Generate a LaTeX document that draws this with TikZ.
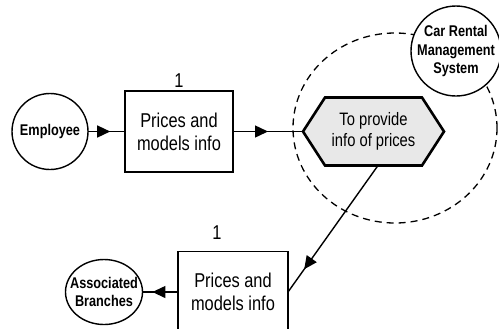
\documentclass[tikz,border=0pt]{standalone}
\usepackage{fontspec}
\setmainfont[FakeStretch=0.82]{Liberation Sans}
\usetikzlibrary{arrows.meta,decorations.markings,shapes.geometric,calc,backgrounds}

\tikzset{
  flowline/.style={line width=1.4bp},
  midarrow/.style={postaction={decorate},
    decoration={markings,mark=at position #1 with {\arrow{Triangle[length=13bp,width=12bp]}}}},
  actor/.style={draw,line width=1.4bp,fill=white,inner sep=0pt,outer sep=0pt},
  actortext/.style={align=center,inner sep=0pt,
    font=\fontsize{15.5bp}{18.5bp}\selectfont\bfseries},
  store/.style={draw,line width=1.5bp,rectangle,fill=white,minimum width=#1,
    minimum height=81bp,inner sep=0pt,outer sep=0pt,align=center,
    font=\fontsize{20bp}{23bp}\selectfont},
  tag/.style={inner sep=0pt,font=\fontsize{20bp}{23bp}\selectfont},
  proclabel/.style={minimum width=141bp,minimum height=68bp,inner sep=0pt,
    outer sep=0pt,align=center,font=\fontsize{18bp}{20.5bp}\selectfont},
  procshape/.style={draw,line width=2.6bp,fill=black!9,line join=miter},
  boundary/.style={draw,line width=1.3bp,dash pattern=on 7bp off 5bp},
}

\begin{document}
\begin{tikzpicture}[x=1bp,y=-1bp]
\useasboundingbox (0,0) rectangle (499,328);

% external entities
\node[actor,circle,minimum size=76bp] (emp) at (50,131.5) {};
\node[actortext] (emptext) at (emp.center) {Employee};

\node[actor,ellipse,minimum width=77bp,minimum height=65bp] (assoc) at (104,292) {};
\node[actortext] (assoctext) at (assoc.center) {Associated\\Branches};

% data stores
\node[store=108bp] (box1) at (179,131.5) {Prices and\\models info};
\node[tag] (box1num) at (179,81) {1};

\node[store=110bp] (box2) at (233,292) {Prices and\\models info};
\node[tag] (box2num) at (217,233) {1};

% process with its system boundary
\node[proclabel] (hex) at (373.5,131.5) {To provide\\info of prices};
\begin{scope}[on background layer]
  \draw[boundary] (395,128) ellipse [x radius=102bp, y radius=95bp];
  \draw[procshape] (hex.west) -- ($(hex.north west)+(22,0)$)
    -- ($(hex.north east)+(-22,0)$) -- (hex.east)
    -- ($(hex.south east)+(-22,0)$) -- ($(hex.south west)+(22,0)$) -- cycle;
\end{scope}

\node[actor,circle,minimum size=90bp] (crms) at (456,51) {};
\node[actortext] (crmstext) at (crms.center) {Car Rental\\Management\\System};

% data flows
\coordinate (hexout) at ($(hex.south)+(4.5,0)$);
\draw[flowline,midarrow=0.6] (emp.east) -- (box1.west);
\draw[flowline,midarrow=0.5] (box1.east) -- (hex.west);
\draw[flowline,midarrow=0.82] (hexout) -- (box2.east);
\draw[flowline,midarrow=0.72] (box2.west) -- (assoc.east);
\end{tikzpicture}
\end{document}
